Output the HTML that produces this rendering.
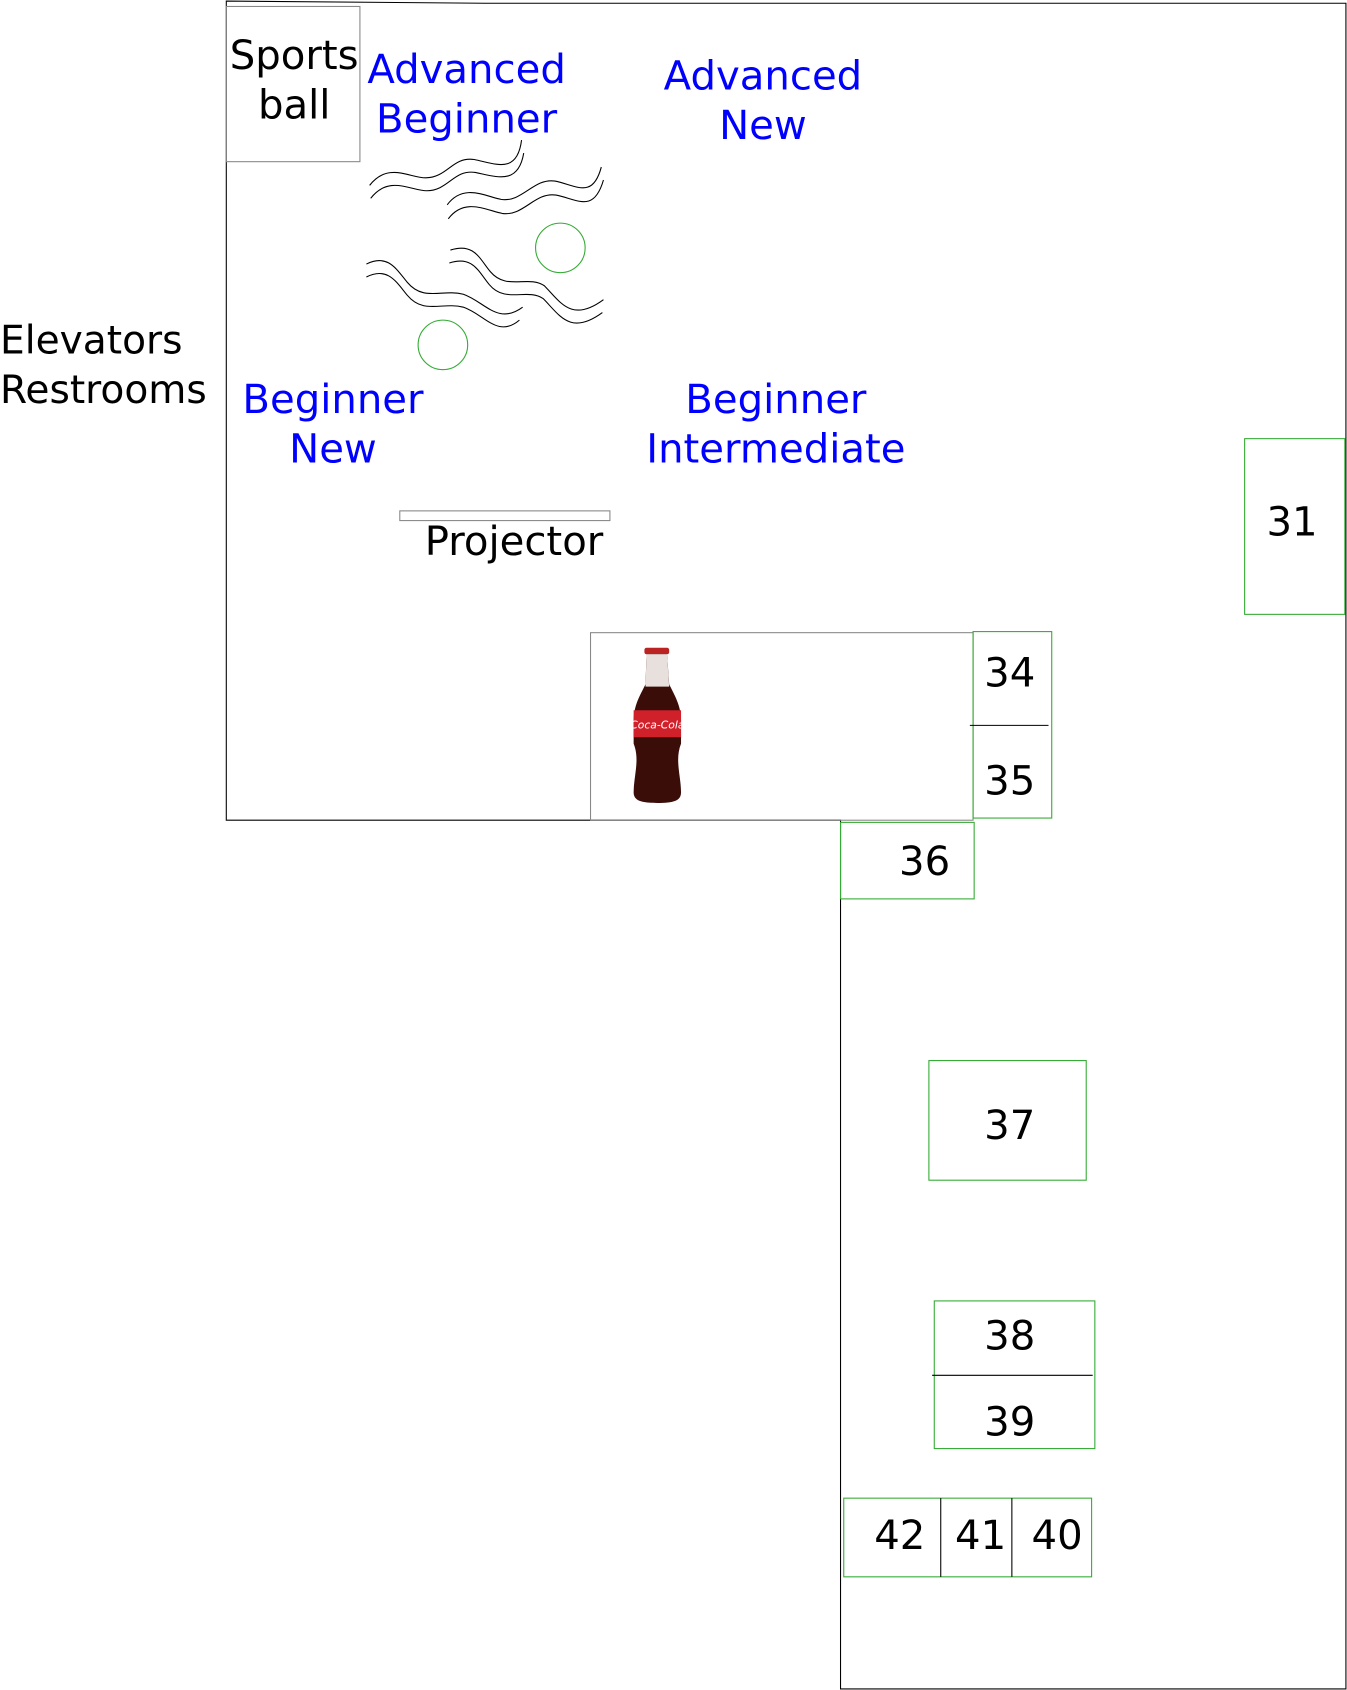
<!DOCTYPE html>
<html><head><meta charset="utf-8"><style>
html,body{margin:0;padding:0;background:#fff;}
svg{display:block;}
text{font-family:"DejaVu Sans","Liberation Sans",sans-serif;font-size:37.3px;}
</style></head><body>
<svg width="1347" height="1690" viewBox="0 0 1250 1568" preserveAspectRatio="none" xmlns="http://www.w3.org/2000/svg">
<g fill="none" stroke="#000" stroke-width="1">
<path d="M210,1 L450,3 L1249,3 L1249,1567 L780,1567 L780,761 L210,761 Z"/>
</g>
<rect x="210" y="6" width="124" height="144" fill="none" stroke="#888" stroke-width="1"/>
<text x="273" y="64" text-anchor="middle">Sports</text>
<text x="273" y="110" text-anchor="middle">ball</text>
<g fill="#0000ff" text-anchor="middle">
<text x="433" y="77">Advanced</text>
<text x="433" y="123">Beginner</text>
<text x="708" y="83">Advanced</text>
<text x="708" y="129">New</text>
<text x="309" y="383">Beginner</text>
<text x="309" y="429">New</text>
<text x="720" y="383">Beginner</text>
<text x="720" y="429">Intermediate</text>
</g>
<text x="0" y="328" style="font-size:36.3px">Elevators</text>
<text x="0" y="374" style="font-size:36.3px">Restrooms</text>
<g fill="none" stroke="#000" stroke-width="1">
<path d="M343,172 C360,150 380,165 395,165 C415,165 420,145 440,148 C460,152 480,162 484,130"/>
<path d="M344,184 C361,162 381,177 396,177 C416,177 421,157 441,160 C461,164 481,172 486,142"/>
<path d="M415,190 C430,170 450,182 465,185 C485,188 495,165 515,168 C535,172 550,185 558,155"/>
<path d="M416,203 C431,183 451,195 466,198 C486,201 496,178 516,181 C536,185 551,198 560,167"/>
<path d="M340,245 C360,235 368,250 378,262 C393,280 410,268 430,273 C450,280 462,302 485,285"/>
<path d="M340,257 C360,247 368,262 378,274 C393,292 410,280 430,285 C450,292 462,314 482,297"/>
<path d="M418,232 C440,225 445,240 455,252 C470,270 490,255 505,265 C520,280 530,300 560,278"/>
<path d="M417,244 C439,237 444,252 454,264 C469,282 489,267 504,277 C519,292 529,312 559,290"/>
</g>
<circle cx="520" cy="230" r="23" fill="none" stroke="#3a3" stroke-width="1"/>
<circle cx="411" cy="320" r="23" fill="none" stroke="#3a3" stroke-width="1"/>
<rect x="371" y="474" width="195" height="9" fill="none" stroke="#888" stroke-width="1"/>
<text x="477" y="515" text-anchor="middle">Projector</text>
<rect x="548" y="587" width="355" height="174" fill="none" stroke="#888" stroke-width="1"/>
<g>
<rect x="598" y="601" width="23" height="6" fill="#b22" rx="2"/>
<path d="M600,607 L619,607 L621,635 C626,645 632,655 632,668 L632,690 C626,705 632,720 632,735 C632,743 625,745 610,745 C595,745 588,743 588,735 C588,720 594,705 588,690 L588,668 C588,655 594,645 599,635 Z" fill="#3a0d08"/>
<path d="M600,607 L619,607 L621,637 L599,637 Z" fill="#e8e0dc"/>
<rect x="588" y="659" width="44" height="25" fill="#d0202a"/>
<text x="610" y="676" text-anchor="middle" fill="#fff" style="font-size:10px;font-style:italic">Coca-Cola</text>
</g>
<g fill="none" stroke="#3a3" stroke-width="1">
<rect x="903" y="586" width="73" height="173"/>
<rect x="1155" y="407" width="93" height="163"/>
<rect x="780" y="763" width="124" height="71"/>
<rect x="862" y="984" width="146" height="111"/>
<rect x="867" y="1207" width="149" height="137"/>
<rect x="783" y="1390" width="230" height="73"/>
</g>
<g stroke="#000" stroke-width="1">
<line x1="900" y1="673" x2="973" y2="673"/>
<line x1="865" y1="1276" x2="1014" y2="1276"/>
<line x1="873" y1="1390" x2="873" y2="1463"/>
<line x1="939" y1="1390" x2="939" y2="1463"/>
</g>
<g text-anchor="middle">
<text x="937" y="637">34</text>
<text x="937" y="737">35</text>
<text x="1199" y="497">31</text>
<text x="858" y="812">36</text>
<text x="937" y="1057">37</text>
<text x="937" y="1252">38</text>
<text x="937" y="1332">39</text>
<text x="835" y="1437">42</text>
<text x="910" y="1437">41</text>
<text x="981" y="1437">40</text>
</g>
</svg>
</body></html>
